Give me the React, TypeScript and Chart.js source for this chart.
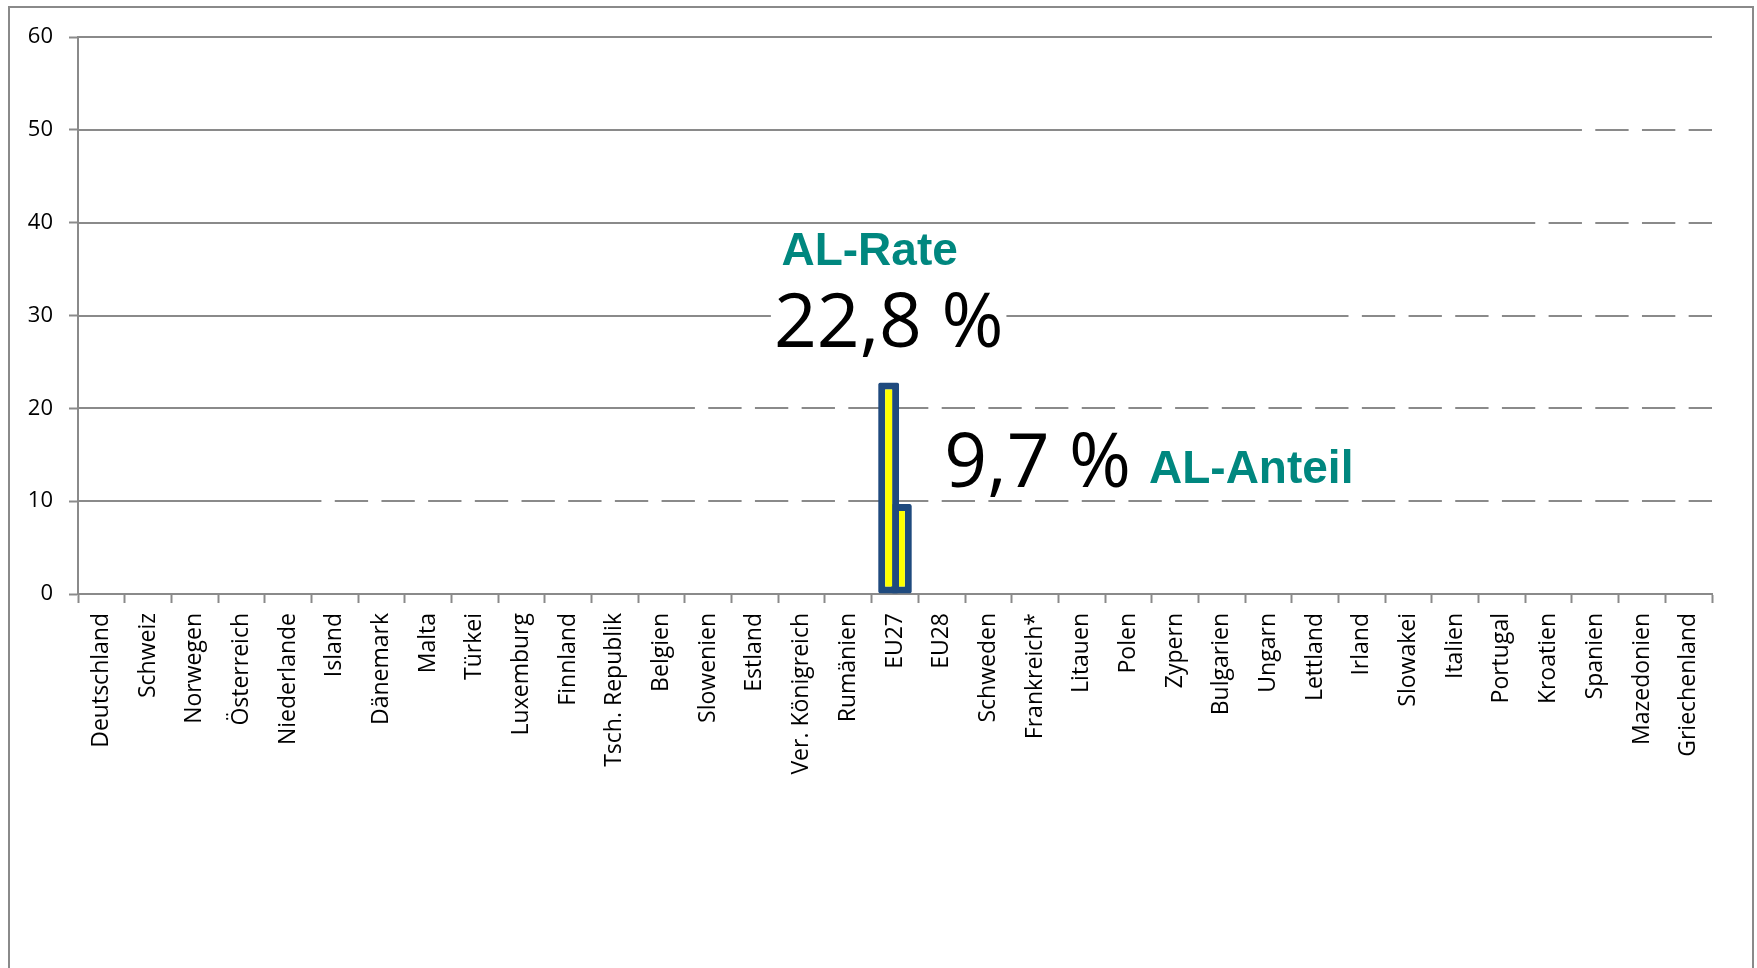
import React, { useEffect, useRef } from "react";
import { Chart, registerables } from "chart.js";

Chart.register(...registerables);

// ---------- data ----------
const categories: string[] = [
  "Deutschland", "Schweiz", "Norwegen", "Österreich", "Niederlande", "Island",
  "Dänemark", "Malta", "Türkei", "Luxemburg", "Finnland", "Tsch. Republik",
  "Belgien", "Slowenien", "Estland", "Ver. Königreich", "Rumänien", "EU27",
  "EU28", "Schweden", "Frankreich*", "Litauen", "Polen", "Zypern", "Bulgarien",
  "Ungarn", "Lettland", "Irland", "Slowakei", "Italien", "Portugal", "Kroatien",
  "Spanien", "Mazedonien", "Griechenland",
];

// AL-Rate (only EU27 shown)
const rateValues: (number | null)[] = [
  null, null, null, null, null, null, null, null, null, null, null, null,
  null, null, null, null, null, 22.8, null, null, null, null, null, null,
  null, null, null, null, null, null, null, null, null, null, null,
];

// AL-Anteil (only EU27 shown)
const shareValues: (number | null)[] = [
  null, null, null, null, null, null, null, null, null, null, null, null,
  null, null, null, null, null, 9.7, null, null, null, null, null, null,
  null, null, null, null, null, null, null, null, null, null, null,
];

const seriesNames: string[] = ["AL-Rate", "AL-Anteil"];
const highlightCategory = "EU27";

const yTicks: number[] = [0, 10, 20, 30, 40, 50, 60];
// gridlines: solid up to (and including) this category, dashed afterwards
const gridValues: number[] = [10, 20, 30, 40, 50, 60];
const gridSolidThrough: string[] = [
  "Niederlande", "Belgien", "Lettland", "Portugal", "Kroatien", "Griechenland",
];

// ---------- styles ----------
const GRID_COLOR = "#8a8a8a";
const TEAL = "#00877f";
const BAR_FILL = "#ffff00";
const BAR_BORDER = "#1f4a7e";
const DASH_FRACTION = 0.714;
const X_TICK_FONT = { family: "'Open Sans', sans-serif", size: 23 };
const Y_TICK_FONT = { family: "'Open Sans', sans-serif", size: 22 };

const CANVAS_W = 1742;
const CANVAS_H = 1006;
const PLOT_LEFT = 68;
const PLOT_RIGHT_PAD = 40;
const PLOT_TOP = 28;
const PLOT_BOTTOM = 586;

const fmt = (v: number) => v.toLocaleString("de-DE") + " %";

const dashedGridPlugin = {
  id: "dashedGrid",
  beforeDatasetsDraw(chart: any) {
    const { ctx, chartArea, scales } = chart;
    const xs = scales.x;
    const ys = scales.y;
    const w = xs.getPixelForValue(1) - xs.getPixelForValue(0);
    const dash = w * DASH_FRACTION;
    ctx.save();
    ctx.strokeStyle = GRID_COLOR;
    ctx.lineWidth = 2;
    ctx.lineCap = "butt";
    gridValues.forEach((v, i) => {
      const py = Math.round(ys.getPixelForValue(v));
      const k = categories.indexOf(gridSolidThrough[i]);
      const segs: [number, number][] = [];
      segs.push([chartArea.left, xs.getPixelForValue(k) + dash]);
      for (let j = k + 1; j < categories.length; j++) {
        const c = xs.getPixelForValue(j);
        segs.push([c, c + dash]);
      }
      ctx.beginPath();
      segs.forEach(([a, b]) => {
        ctx.moveTo(a, py);
        ctx.lineTo(Math.min(b, chartArea.right), py);
      });
      ctx.stroke();
    });
    ctx.restore();
  },
};

const annotationPlugin = {
  id: "alAnnotations",
  afterDatasetsDraw(chart: any) {
    const { ctx } = chart;
    const idx = categories.indexOf(highlightCategory);
    const b0 = chart.getDatasetMeta(0).data[idx];
    const b1 = chart.getDatasetMeta(1).data[idx];
    if (!b0 || !b1) return;
    const bigFont = "75px 'Open Sans', sans-serif";
    const labelFont = "bold 46px 'Liberation Sans', Arial, sans-serif";
    ctx.save();
    ctx.textBaseline = "alphabetic";

    // AL-Rate value with white background
    const rateText = fmt(rateValues[idx] as number);
    ctx.font = bigFont;
    const rw = ctx.measureText(rateText).width;
    const rBase = b0.y - 35;
    ctx.fillStyle = "#ffffff";
    ctx.fillRect(b0.x - rw / 2 - 3, rBase - 62, rw + 6, 78);
    ctx.fillStyle = "#000000";
    ctx.textAlign = "center";
    ctx.fillText(rateText, b0.x, rBase);

    // AL-Rate caption
    ctx.font = labelFont;
    ctx.fillStyle = TEAL;
    ctx.fillText(seriesNames[0], b0.x - 19, b0.y - 117);

    // AL-Anteil value + caption
    const shareText = fmt(shareValues[idx] as number);
    ctx.textAlign = "left";
    ctx.font = bigFont;
    ctx.fillStyle = "#000000";
    const sx = b1.x + 43;
    ctx.fillText(shareText, sx, b1.y - 17);
    const sw = ctx.measureText(shareText).width;
    ctx.font = labelFont;
    ctx.fillStyle = TEAL;
    ctx.fillText(seriesNames[1], sx + sw + 18, b1.y - 21);
    ctx.restore();
  },
};

export default function App() {
  const canvasRef = useRef<HTMLCanvasElement | null>(null);

  useEffect(() => {
    let chart: Chart | null = null;
    let cancelled = false;
    const make = () => {
      if (cancelled || !canvasRef.current) return;
      chart = new Chart(canvasRef.current, {
        type: "bar",
        data: {
          labels: categories,
          datasets: [
            {
              label: seriesNames[0],
              data: rateValues,
              backgroundColor: BAR_FILL,
              borderColor: BAR_BORDER,
              borderWidth: 7,
              borderSkipped: false,
              borderRadius: 2,
              categoryPercentage: 0.544,
              barPercentage: 1.65,
            },
            {
              label: seriesNames[1],
              data: shareValues,
              backgroundColor: BAR_FILL,
              borderColor: BAR_BORDER,
              borderWidth: 7,
              borderSkipped: false,
              borderRadius: 2,
              categoryPercentage: 0.544,
              barPercentage: 1.65,
            },
          ],
        },
        options: {
          responsive: false,
          animation: false,
          devicePixelRatio: 1,
          layout: {
            padding: { left: 0, right: PLOT_RIGHT_PAD, top: PLOT_TOP, bottom: 0 },
          },
          plugins: {
            legend: { display: false },
            tooltip: { enabled: false },
            title: { display: false },
          },
          scales: {
            x: {
              type: "category",
              offset: true,
              grid: {
                offset: true,
                drawOnChartArea: false,
                drawTicks: true,
                tickLength: 9,
                tickColor: GRID_COLOR,
                tickWidth: 2,
              },
              border: { display: true, color: GRID_COLOR, width: 2 },
              ticks: {
                autoSkip: false,
                minRotation: 90,
                maxRotation: 90,
                padding: 10,
                color: "#000000",
                font: X_TICK_FONT,
              },
              afterFit: (scale: any) => {
                scale.height = CANVAS_H - PLOT_BOTTOM;
              },
            },
            y: {
              min: yTicks[0],
              max: yTicks[yTicks.length - 1],
              afterBuildTicks: (scale: any) => {
                scale.ticks = yTicks.map((v) => ({ value: v }));
              },
              grid: {
                drawOnChartArea: false,
                drawTicks: true,
                tickLength: 9,
                tickColor: GRID_COLOR,
                tickWidth: 2,
              },
              border: { display: true, color: GRID_COLOR, width: 2 },
              ticks: {
                padding: 16,
                color: "#000000",
                font: Y_TICK_FONT,
              },
              afterFit: (scale: any) => {
                scale.width = PLOT_LEFT;
              },
            },
          },
        },
        plugins: [dashedGridPlugin, annotationPlugin],
      });
    };
    const fontsReady = (document as any).fonts
      ? Promise.all([
          (document as any).fonts.load("22px 'Open Sans'"),
          (document as any).fonts.load("75px 'Open Sans'"),
          (document as any).fonts.load("bold 46px 'Liberation Sans'"),
        ]).catch(() => null)
      : Promise.resolve(null);
    fontsReady.then(make);
    return () => {
      cancelled = true;
      if (chart) chart.destroy();
    };
  }, []);

  return (
    <div
      style={{
        position: "fixed",
        left: 8,
        top: 6,
        width: CANVAS_W + 4,
        height: CANVAS_H + 4,
        boxSizing: "border-box",
        border: `2px solid ${GRID_COLOR}`,
        background: "#ffffff",
      }}
    >
      <canvas
        ref={canvasRef}
        width={CANVAS_W}
        height={CANVAS_H}
        style={{ display: "block", width: CANVAS_W, height: CANVAS_H }}
      />
    </div>
  );
}
